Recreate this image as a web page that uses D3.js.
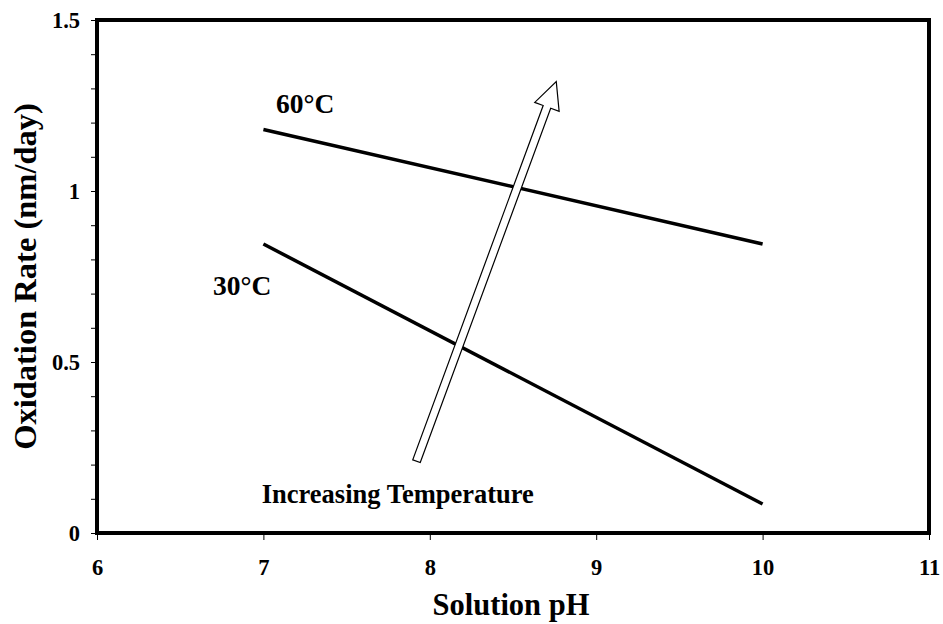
<!DOCTYPE html>
<html>
<head>
<meta charset="utf-8">
<script src="https://cdn.jsdelivr.net/npm/d3@7"></script>
<style>
  body { margin: 0; background: #fff; }
  svg { display: block; }
  text { font-family: "Liberation Serif", "Times New Roman", serif; font-weight: bold; fill: #000; }
</style>
</head>
<body>
<svg id="chart" width="943" height="624"></svg>
<script>
// ---- data ----
const pH = [7, 10];
const rate60 = [1.18, 0.845];
const rate30 = [0.845, 0.085];
const seriesLabels = ["60°C", "30°C"];
const xTicks = [6, 7, 8, 9, 10, 11];
const yTickLabels = [0, 0.5, 1, 1.5];
const arrowFrom = [7.92, 0.21];
const arrowTo = [8.76, 1.32];
const arrowLabel = "Increasing Temperature";

// ---- layout ----
const svg = d3.select("#chart");
const L = 97, T = 20, R = 929, B = 533;
const x = d3.scaleLinear().domain([6, 11]).range([L, R]);
const y = d3.scaleLinear().domain([0, 1.5]).range([B, T]);

// minor y ticks
const yMinor = d3.range(0, 1.5001, 0.1);
svg.append("g")
  .attr("transform", `translate(${L},0)`)
  .call(d3.axisLeft(y).tickValues(yMinor).tickSize(6).tickFormat(""))
  .call(g => g.select(".domain").remove())
  .selectAll("line").attr("stroke", "#000").attr("stroke-width", 1);

// y labels
svg.append("g")
  .attr("transform", `translate(${L},0)`)
  .call(d3.axisLeft(y).tickValues(yTickLabels).tickSize(0).tickPadding(17).tickFormat(d3.format("")))
  .call(g => g.select(".domain").remove())
  .selectAll("text").style("font-size", "22.5px").style("font-family", "Liberation Serif").style("font-weight", "bold");

// x axis
svg.append("g")
  .attr("transform", `translate(0,${B})`)
  .call(d3.axisBottom(x).tickValues(xTicks).tickSize(7).tickPadding(19).tickFormat(d3.format("d")))
  .call(g => g.select(".domain").remove())
  .call(g => g.selectAll("line").attr("stroke", "#000").attr("stroke-width", 1))
  .selectAll("text").style("font-size", "22.5px").style("font-family", "Liberation Serif").style("font-weight", "bold");

// frame
svg.append("rect")
  .attr("x", L).attr("y", T).attr("width", R - L).attr("height", B - T)
  .attr("fill", "none").attr("stroke", "#000").attr("stroke-width", 4);

// lines
const line = d3.line().x(d => x(d[0])).y(d => y(d[1]));
[rate60, rate30].forEach(vals => {
  svg.append("path")
    .datum(pH.map((p, i) => [p, vals[i]]))
    .attr("d", line)
    .attr("fill", "none").attr("stroke", "#000").attr("stroke-width", 3.5);
});

// arrow (block arrow outline)
(function () {
  const x0 = x(arrowFrom[0]), y0 = y(arrowFrom[1]);
  const x1 = x(arrowTo[0]), y1 = y(arrowTo[1]);
  const dx = x1 - x0, dy = y1 - y0, len = Math.hypot(dx, dy);
  const ux = dx / len, uy = dy / len, nx = -uy, ny = ux;
  const sw = 4, hw = 13, hl = 27;
  const bx = x1 - ux * hl, by = y1 - uy * hl;
  const pts = [
    [x0 + nx * sw, y0 + ny * sw],
    [bx + nx * sw, by + ny * sw],
    [bx + nx * hw, by + ny * hw],
    [x1, y1],
    [bx - nx * hw, by - ny * hw],
    [bx - nx * sw, by - ny * sw],
    [x0 - nx * sw, y0 - ny * sw]
  ];
  svg.append("path")
    .attr("d", "M" + pts.map(p => p.join(",")).join("L") + "Z")
    .attr("fill", "#fff").attr("stroke", "#000").attr("stroke-width", 1.2);
})();

// annotations
svg.append("text").attr("x", x(7.076)).attr("y", y(1.228))
  .style("font-size", "27.5px").text(seriesLabels[0]);
svg.append("text").attr("x", x(6.697)).attr("y", y(0.696))
  .style("font-size", "27.5px").text(seriesLabels[1]);
svg.append("text").attr("x", x(6.99)).attr("y", y(0.088))
  .style("font-size", "26.5px").text(arrowLabel);

// axis titles
svg.append("text").attr("x", 511).attr("y", 615)
  .attr("text-anchor", "middle").style("font-size", "30.5px").text("Solution pH");
svg.append("text")
  .attr("transform", `translate(36,${(T + B) / 2}) rotate(-90)`)
  .attr("text-anchor", "middle").style("font-size", "32.5px").text("Oxidation Rate (nm/day)");
</script>
</body>
</html>
